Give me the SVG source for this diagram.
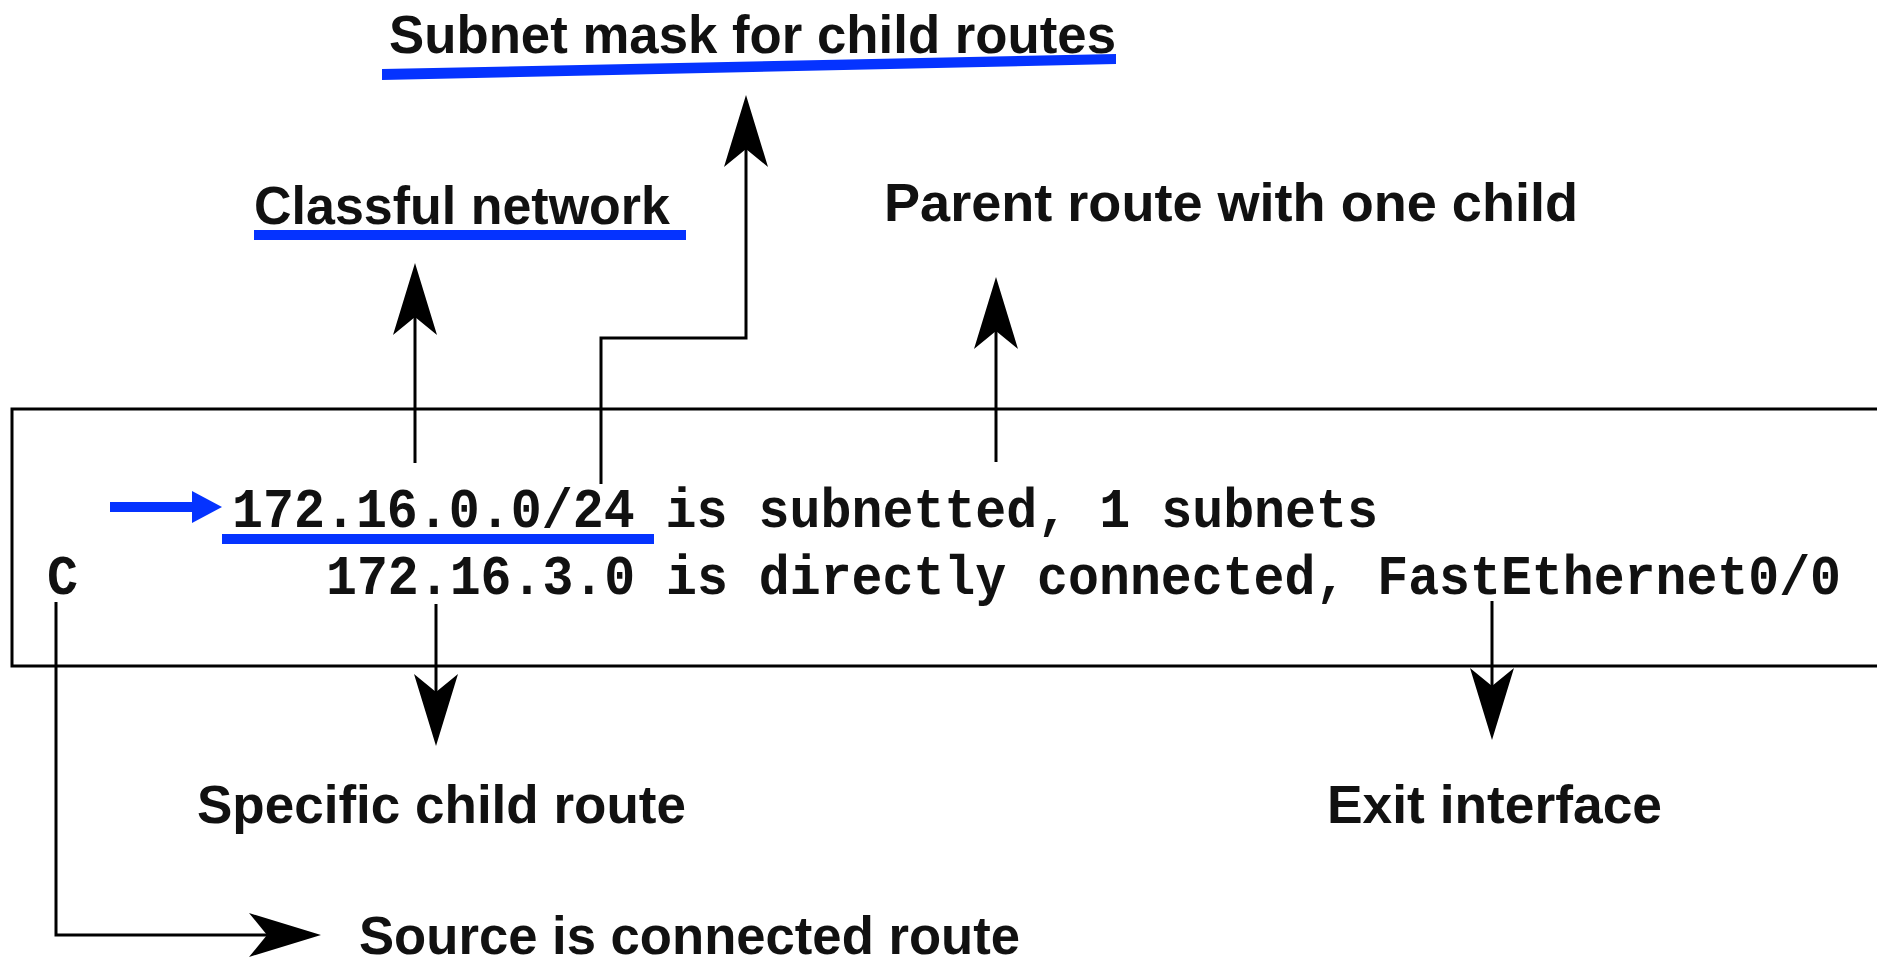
<svg xmlns="http://www.w3.org/2000/svg" width="1877" height="962" viewBox="0 0 1877 962">
<style>
.lbl{font-family:"Liberation Sans",Arial,sans-serif;font-weight:bold;font-size:53px;fill:#111}
.mono{font-family:"Liberation Mono","Courier New",monospace;font-weight:bold;font-size:56px;fill:#111}
.conn{fill:none;stroke:#000;stroke-width:3}
.blue{fill:#0533ff}
</style>
<defs>
<marker id="ah" markerUnits="userSpaceOnUse" markerWidth="74" markerHeight="50" refX="18" refY="25" orient="auto" overflow="visible">
<path d="M0,3 L72,25 L0,47 L18,25 Z" fill="#000"/>
</marker>
</defs>
<rect width="1877" height="962" fill="#fff"/>
<g id="box">
<path d="M1877,409 H12 V666 H1877" fill="none" stroke="#000" stroke-width="3"/>
</g>
<g id="routes">
<polygon class="blue" points="110,502 192,502 192,491 222,507 192,523 192,512 110,512"/>
<text class="mono" x="232" y="527" textLength="1146" lengthAdjust="spacingAndGlyphs">172.16.0.0/24 is subnetted, 1 subnets</text>
<rect class="blue" x="222" y="534" width="432" height="10"/>
<text class="mono" x="47" y="594" textLength="31" lengthAdjust="spacingAndGlyphs">C</text>
<text class="mono" x="326" y="594" textLength="1515" lengthAdjust="spacingAndGlyphs">172.16.3.0 is directly connected, FastEthernet0/0</text>
</g>
<g id="connectors">
<path class="conn" d="M415,463 V317" marker-end="url(#ah)"/>
<path class="conn" d="M601,484 V338 H746 V149" marker-end="url(#ah)"/>
<path class="conn" d="M996,462 V331" marker-end="url(#ah)"/>
<path class="conn" d="M436,604 V692" marker-end="url(#ah)"/>
<path class="conn" d="M1492,601 V686" marker-end="url(#ah)"/>
<path class="conn" d="M56,602 V935 H267" marker-end="url(#ah)"/>
</g>
<g id="subnet-mask">
<text class="lbl" x="389" y="53" textLength="727" lengthAdjust="spacingAndGlyphs">Subnet mask for child routes</text>
<polygon class="blue" points="382,69 1116,54 1116,64 382,80"/>
</g>
<g id="classful">
<text class="lbl" x="254" y="224" textLength="416" lengthAdjust="spacingAndGlyphs">Classful network</text>
<rect class="blue" x="254" y="230" width="432" height="10"/>
</g>
<g id="parent">
<text class="lbl" x="884" y="221" textLength="694" lengthAdjust="spacingAndGlyphs">Parent route with one child</text>
</g>
<g id="specific">
<text class="lbl" x="197" y="823" textLength="489" lengthAdjust="spacingAndGlyphs">Specific child route</text>
</g>
<g id="exit">
<text class="lbl" x="1327" y="823" textLength="335" lengthAdjust="spacingAndGlyphs">Exit interface</text>
</g>
<g id="source">
<text class="lbl" x="359" y="954" textLength="661" lengthAdjust="spacingAndGlyphs">Source is connected route</text>
</g>
</svg>
